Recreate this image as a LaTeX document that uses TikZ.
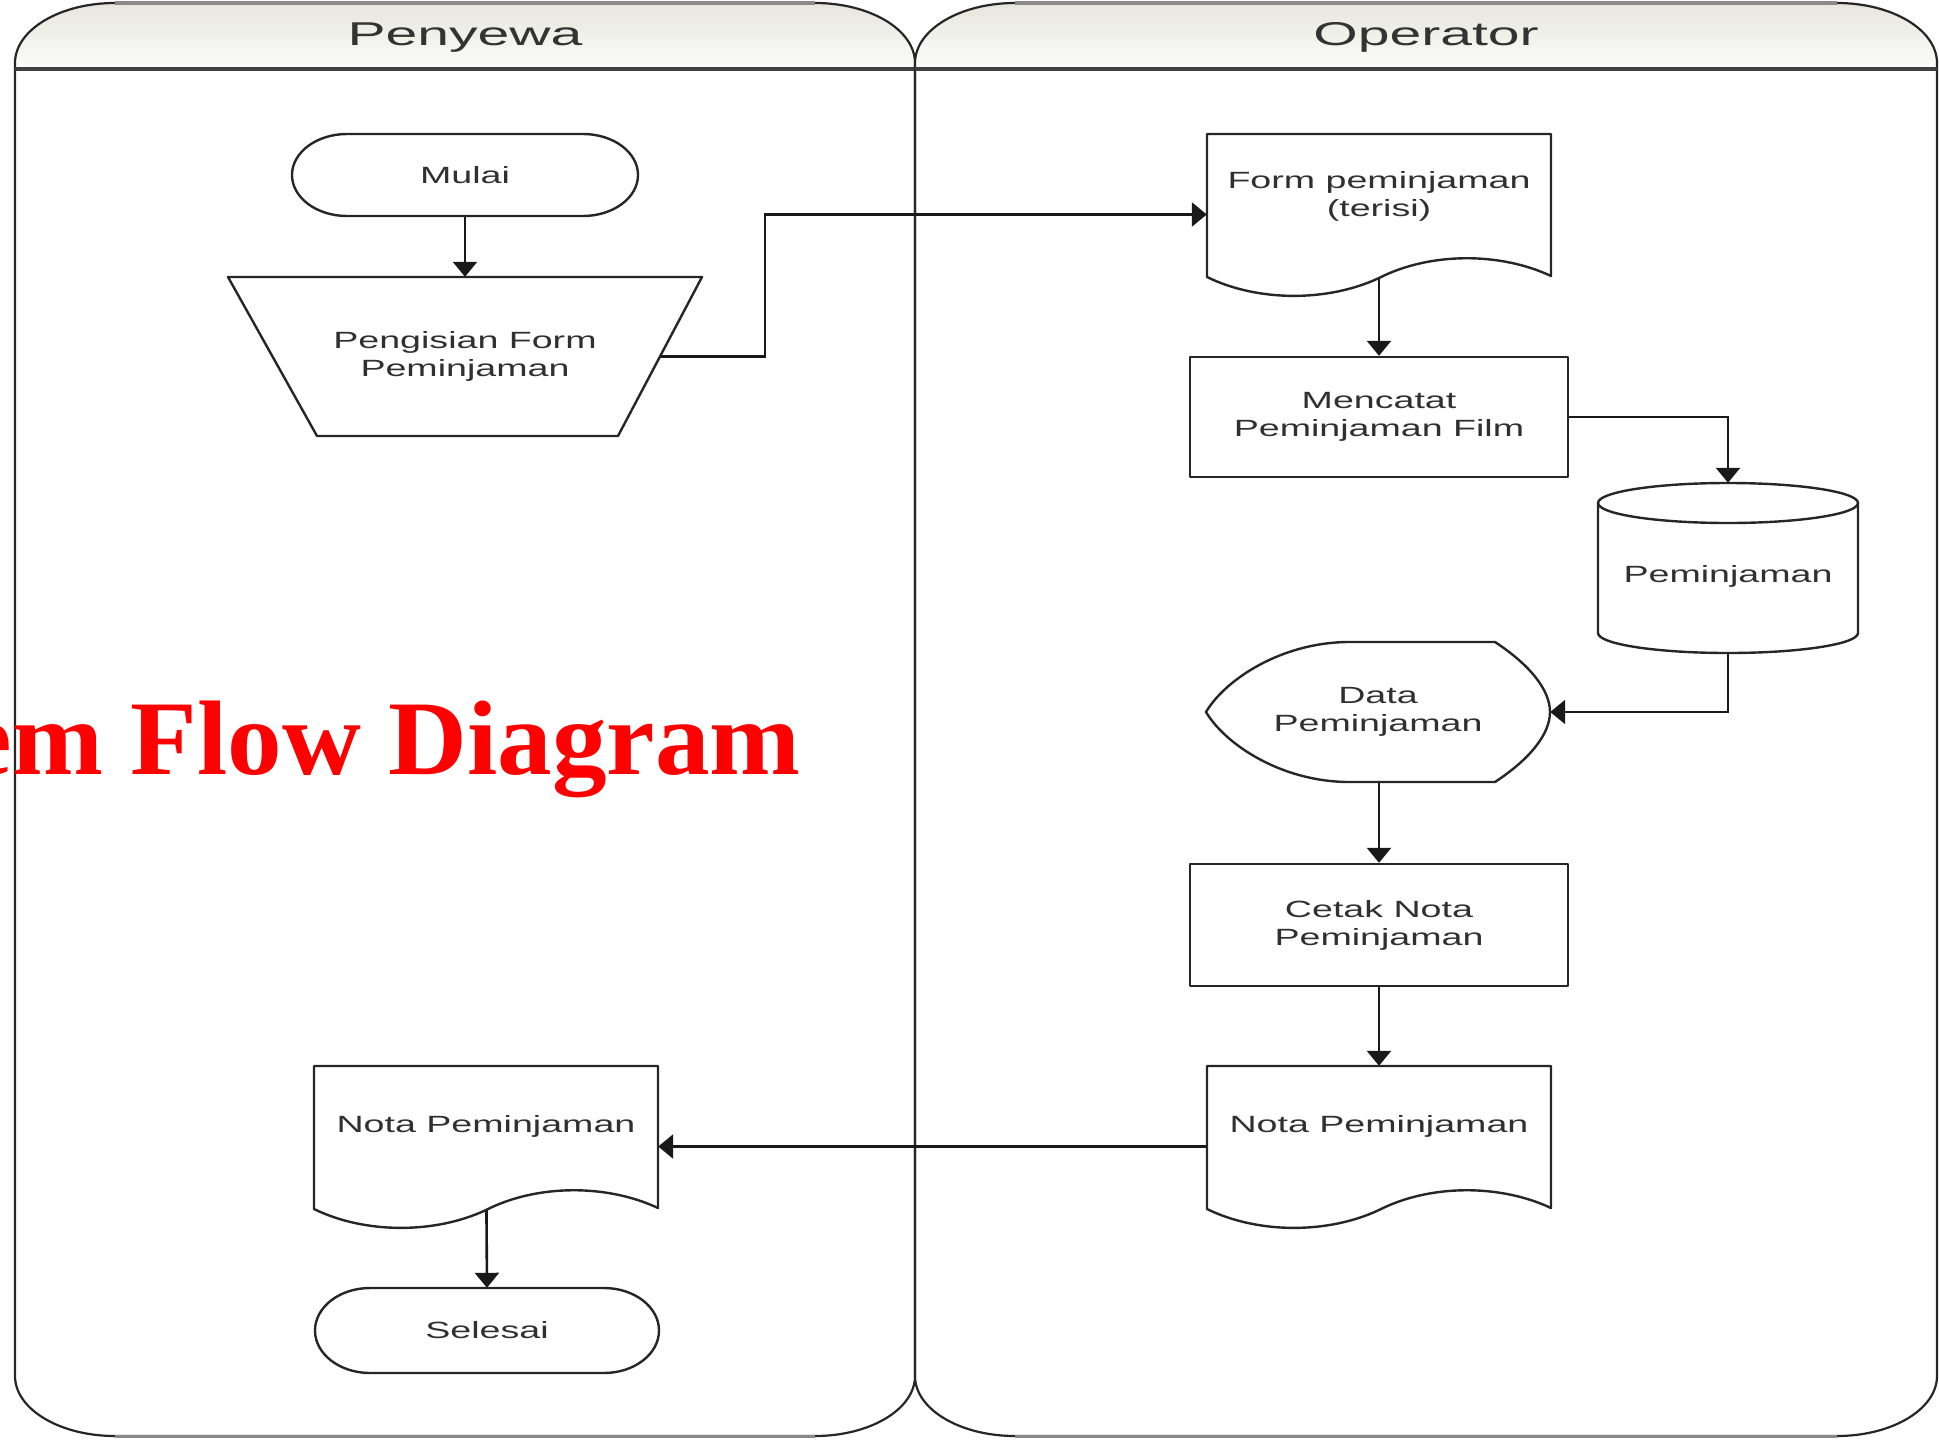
\documentclass[tikz,border=0pt]{standalone}
\usepackage{fontspec}
\setmainfont{Liberation Sans}
\newfontfamily\nodefont{Liberation Sans}[FakeStretch=1.6]
\newfontfamily\headfont{Liberation Sans}[FakeStretch=1.73]
\newfontfamily\titlefont{Liberation Serif}[FakeStretch=1.03]
\usetikzlibrary{arrows.meta}
\definecolor{txtgray}{HTML}{303030}
\definecolor{hdrtop}{HTML}{E6E6DE}
\definecolor{hdrbot}{HTML}{FCFCFA}
\definecolor{edgegray}{HTML}{8A8A8A}
\pgfdeclarelayer{lanes}
\pgfdeclarelayer{conn}
\pgfsetlayers{lanes,conn,main}
\begin{document}
\begin{tikzpicture}[x=1pt,y=-1pt,
  txt/.style={font=\nodefont\fontsize{23.5pt}{28pt}\selectfont, text=txtgray, align=center, inner sep=0pt},
  shp/.style={draw=black!85, line width=2.4pt, fill=white, line join=round},
  procbox/.style={shp, txt, minimum width=378pt},
  arr/.style={draw=black!90, line width=2.6pt, -{Triangle[length=15pt,width=24pt]}},
  lanetitle/.style={font=\headfont\fontsize{33pt}{36pt}\selectfont, text=black!80, anchor=base, inner sep=0pt}]
\useasboundingbox (0,0) rectangle (1939,1440);

% ---------- swimlanes ----------
\begin{pgfonlayer}{lanes}
\foreach \L/\R in {15/915, 915/1937} {
  \fill[top color=hdrtop, bottom color=hdrbot] (\L,69) -- (\L,63)
     arc[start angle=180,end angle=270,x radius=100,y radius=60] -- (\R-100,3)
     arc[start angle=270,end angle=360,x radius=100,y radius=60] -- (\R,69) -- cycle;
  \draw[black!85, line width=2.2pt] (\L,63)
     arc[start angle=180,end angle=270,x radius=100,y radius=60] -- (\R-100,3)
     arc[start angle=270,end angle=360,x radius=100,y radius=60] -- (\R,1376)
     arc[start angle=0,end angle=90,x radius=100,y radius=60] -- (\L+100,1436)
     arc[start angle=90,end angle=180,x radius=100,y radius=60] -- cycle;
  \draw[edgegray, line width=4pt] (\L+100,3) -- (\R-100,3);
  \draw[edgegray, line width=3pt] (\L+100,1436) -- (\R-100,1436);
  \draw[black!75, line width=3.5pt] (\L,69) -- (\R,69);
}
\end{pgfonlayer}
\node[lanetitle] (hpen) at (465,45) {Penyewa};
\node[lanetitle] (hop) at (1426,45) {Operator};

% ---------- shapes ----------
% Mulai
\draw[shp] (347,134) -- (583,134) arc[start angle=270,end angle=450,x radius=55,y radius=41]
  -- (347,216) arc[start angle=90,end angle=270,x radius=55,y radius=41] -- cycle;
\node[txt, minimum width=346pt, minimum height=82pt] (mulai) at (465,175) {Mulai};

% Pengisian Form (manual operation)
\draw[shp] (228,277) -- (702,277) -- (618,436) -- (317,436) -- cycle;
\node[txt, minimum width=474pt, minimum height=159pt] (peng) at (465,356.5) {Pengisian Form\\Peminjaman};

% Form peminjaman (document)
\begin{scope}[shift={(1207,134)}]
\draw[shp] (0,0) -- (344,0) -- (344,142) .. controls (293,118) and (223,118) .. (172,144)
  .. controls (121,168) and (51,168) .. (0,143) -- cycle;
\end{scope}
\node[txt, minimum width=344pt, minimum height=161pt] (form1) at (1379,214.5) {};
\node[txt] (form1t) at (1379,196) {Form peminjaman\\(terisi)};

% Mencatat
\node[procbox, minimum height=120pt] (menc) at (1379,417) {Mencatat\\Peminjaman Film};

% Cylinder
\draw[shp] (1598,503) -- (1598,633) arc[start angle=180,end angle=0,x radius=130,y radius=20]
  -- (1858,503) arc[start angle=360,end angle=180,x radius=130,y radius=20] -- cycle;
\draw[shp, fill=none] (1598,503) arc[start angle=180,end angle=0,x radius=130,y radius=20];
\node[txt, minimum width=260pt, minimum height=170pt] (cyl) at (1728,568) {};
\node[txt] (cylt) at (1728,576) {Peminjaman};

% Data Peminjaman (display)
\draw[shp] (1206,712) .. controls (1225,680) and (1280,643) .. (1347,642) -- (1495,642)
  .. controls (1530,665) and (1550,690) .. (1550,712)
  .. controls (1550,734) and (1530,759) .. (1495,782) -- (1347,782)
  .. controls (1280,781) and (1225,744) .. (1206,712) -- cycle;
\node[txt, minimum width=344pt, minimum height=140pt] (data) at (1378,712) {Data\\Peminjaman};

% Cetak Nota
\node[procbox, minimum height=122pt] (cetak) at (1379,925) {Cetak Nota\\Peminjaman};

% Nota Peminjaman (operator)
\begin{scope}[shift={(1207,1066)}]
\draw[shp] (0,0) -- (344,0) -- (344,142) .. controls (293,118) and (223,118) .. (172,144)
  .. controls (121,168) and (51,168) .. (0,143) -- cycle;
\end{scope}
\node[txt, minimum width=344pt, minimum height=161pt] (nota2) at (1379,1146.5) {};
\node[txt] (nota2t) at (1379,1126) {Nota Peminjaman};

% Nota Peminjaman (penyewa)
\begin{scope}[shift={(314,1066)}]
\draw[shp] (0,0) -- (344,0) -- (344,142) .. controls (293,118) and (223,118) .. (172,144)
  .. controls (121,168) and (51,168) .. (0,143) -- cycle;
\end{scope}
\node[txt, minimum width=344pt, minimum height=161pt] (nota1) at (486,1146.5) {};
\node[txt] (nota1t) at (486,1126) {Nota Peminjaman};

% Selesai
\draw[shp] (370,1288) -- (604,1288) arc[start angle=270,end angle=450,x radius=55,y radius=42.5]
  -- (370,1373) arc[start angle=90,end angle=270,x radius=55,y radius=42.5] -- cycle;
\node[txt, minimum width=344pt, minimum height=85pt] (selesai) at (487,1330.5) {Selesai};

% Title overlay
\node[font=\titlefont\bfseries\fontsize{106pt}{110pt}\selectfont, text=red, anchor=base east, inner sep=0pt] (title) at (801,774) {System Flow Diagram};

% ---------- connectors ----------
\begin{pgfonlayer}{conn}
\coordinate (b1) at (765,214.5);
\draw[arr] (mulai) -- (peng);
\draw[arr] (peng.center) -| (b1) -- (form1.west);
\draw[arr] (form1.center) -- (menc.north);
\draw[arr] (menc.east) -| (cyl.north);
\draw[arr] (cyl.south) |- (data.east);
\draw[arr] (data.south -| cetak.north) -- (cetak.north);
\draw[arr] (cetak.south) -- (nota2.north);
\draw[arr] (nota2.west) -- (nota1.east);
\draw[arr] (nota1.center) -- (selesai.north);
\end{pgfonlayer}
\end{tikzpicture}
\end{document}
